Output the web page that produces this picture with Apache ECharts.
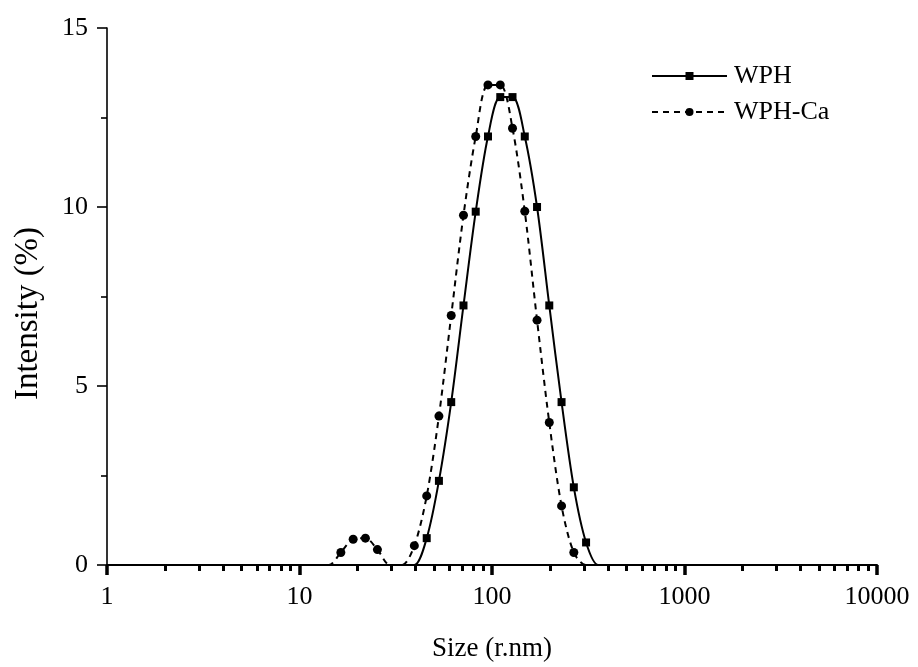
<!DOCTYPE html>
<html>
<head>
<meta charset="utf-8">
<script src="https://cdn.jsdelivr.net/npm/echarts@6/dist/echarts.min.js"></script>
<style>
  html, body { margin: 0; padding: 0; background: #fff; }
  #chart { width: 918px; height: 667px; }
</style>
</head>
<body>
<div id="chart"></div>
<script>
// Hydrodynamic size bins (r.nm), shared by both measurements
const sizes = [
  1.01, 1.17, 1.36, 1.57, 1.82, 2.11, 2.44, 2.83, 3.27, 3.79,
  4.39, 5.08, 5.89, 6.82, 7.89, 9.14, 10.6, 12.2, 14.2, 16.4,
  19.0, 22.0, 25.4, 29.5, 34.1, 39.5, 45.8, 53.0, 61.4, 71.1,
  82.3, 95.3, 110.4, 127.8, 148.0, 171.4, 198.4, 229.8, 266.1, 308.1,
  356.7, 413, 478, 553, 641, 742, 859, 994, 1151, 1333,
  1544, 1787, 2070, 2396, 2775, 3213, 3721, 4308, 4989, 5776,
  6689, 7745, 8968
];

// Intensity distribution (%) for WPH
const wph = [
  0, 0, 0, 0, 0, 0, 0, 0, 0, 0,
  0, 0, 0, 0, 0, 0, 0, 0, 0, 0,
  0, 0, 0, 0, 0, 0, 0.75, 2.35, 4.55, 7.25,
  9.87, 11.97, 13.07, 13.07, 11.97, 10.0, 7.25, 4.55, 2.17, 0.63,
  0, 0, 0, 0, 0, 0, 0, 0, 0, 0,
  0, 0, 0, 0, 0, 0, 0, 0, 0, 0,
  0, 0, 0
];

// Intensity distribution (%) for WPH-Ca
const wphCa = [
  0, 0, 0, 0, 0, 0, 0, 0, 0, 0,
  0, 0, 0, 0, 0, 0, 0, 0, 0, 0.35,
  0.72, 0.75, 0.43, 0, 0, 0.54, 1.93, 4.16, 6.97, 9.77,
  11.97, 13.41, 13.41, 12.2, 9.88, 6.84, 3.98, 1.65, 0.35, 0,
  0, 0, 0, 0, 0, 0, 0, 0, 0, 0,
  0, 0, 0, 0, 0, 0, 0, 0, 0, 0,
  0, 0, 0
];

// Minor tick positions within each decade
const minorTickValues = [
  2, 3, 4, 5, 6, 7, 8, 9,
  20, 30, 40, 50, 60, 70, 80, 90,
  200, 300, 400, 500, 600, 700, 800, 900,
  2000, 3000, 4000, 5000, 6000, 7000, 8000, 9000
];

const FONT = '"Liberation Serif", "Times New Roman", serif';

const pairs = (ys) => sizes.map((s, i) => [s, ys[i]]);
// markers are only drawn where the distribution is non-zero
const markerSize = (size) => (v) => (v[1] > 0 ? size : 0);

const chart = echarts.init(document.getElementById('chart'), null, { renderer: 'canvas' });

chart.setOption({
  backgroundColor: '#ffffff',
  animation: false,
  grid: { left: 107, right: 41, top: 28, bottom: 101, containLabel: false },
  legend: {
    orient: 'vertical',
    left: 646,
    top: 58,
    itemWidth: 75,
    itemHeight: 10,
    itemGap: 10,
    textStyle: { fontFamily: FONT, fontSize: 26, color: '#000', padding: [0, 0, 0, 2] },
    data: [
      { name: 'WPH', itemStyle: { color: '#000' } },
      { name: 'WPH-Ca', itemStyle: { color: '#000' } }
    ]
  },
  xAxis: [
    {
      type: 'log',
      logBase: 10,
      min: 1,
      max: 10000,
      name: 'Size (r.nm)',
      nameLocation: 'middle',
      nameGap: 70,
      nameTextStyle: { fontFamily: FONT, fontSize: 27, color: '#000' },
      axisLine: { onZero: false, lineStyle: { color: '#000', width: 2 } },
      axisTick: { inside: false, length: 10, lineStyle: { color: '#000', width: 3.5 } },
      axisLabel: {
        margin: 19,
        fontFamily: FONT,
        fontSize: 26,
        color: '#000',
        formatter: (v) => String(v)
      },
      splitLine: { show: false },
      minorTick: { show: false }
    },
    {
      type: 'log',
      logBase: 10,
      min: 1,
      max: 10000,
      position: 'bottom',
      axisLine: { show: false },
      axisTick: {
        show: true,
        inside: false,
        length: 6,
        customValues: minorTickValues,
        lineStyle: { color: '#000', width: 3 }
      },
      axisLabel: { show: false },
      splitLine: { show: false }
    }
  ],
  yAxis: {
    type: 'value',
    min: 0,
    max: 15,
    interval: 5,
    name: 'Intensity (%)',
    nameLocation: 'middle',
    nameGap: 62,
    nameTextStyle: { fontFamily: FONT, fontSize: 33, color: '#000', padding: [0, 34, 0, 0] },
    axisLine: { show: true, lineStyle: { color: '#000', width: 1.6 } },
    axisTick: { show: true, inside: false, length: 10, lineStyle: { color: '#000', width: 1.6 } },
    minorTick: { show: true, splitNumber: 2, length: 6, lineStyle: { color: '#000', width: 1.6 } },
    axisLabel: { margin: 19, fontFamily: FONT, fontSize: 26, color: '#000' },
    splitLine: { show: false }
  },
  series: [
    {
      name: 'WPH',
      type: 'line',
      xAxisIndex: 0,
      data: pairs(wph),
      smooth: 0.3,
      symbol: 'rect',
      symbolSize: markerSize(8),
      showAllSymbol: true,
      itemStyle: { color: '#000' },
      lineStyle: { color: '#000', width: 2 },
      z: 3
    },
    {
      name: 'WPH-Ca',
      type: 'line',
      xAxisIndex: 0,
      data: pairs(wphCa),
      smooth: 0.3,
      symbol: 'circle',
      symbolSize: markerSize(9),
      showAllSymbol: true,
      itemStyle: { color: '#000' },
      lineStyle: { color: '#000', width: 2, type: [6, 5] },
      z: 3
    }
  ]
});
</script>
</body>
</html>
